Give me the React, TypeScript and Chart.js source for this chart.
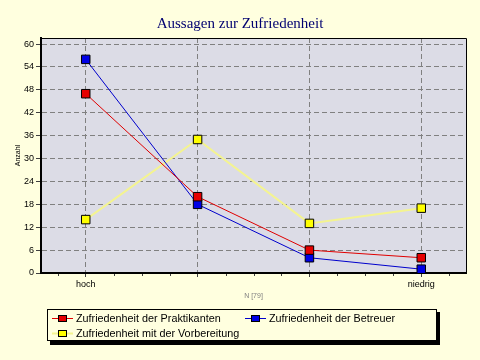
import React, { useEffect, useRef } from "react";
import { Chart, registerables } from "chart.js";

Chart.register(...registerables);

const categories = ["hoch", "", "", "niedrig"];
const seriesNames = [
  "Zufriedenheit der Praktikanten",
  "Zufriedenheit der Betreuer",
  "Zufriedenheit mit der Vorbereitung",
];
const praktikanten = [47, 20, 6, 4];
const betreuer = [56, 18, 4, 1];
const vorbereitung = [14, 35, 13, 17];
const yMax = 61.6;
const yStep = 6;
const titleText = "Aussagen zur Zufriedenheit";
const yTitle = "Anzahl";
const xTitle = "N [79]";

const PAGE_BG = "#FFFFDF";
const PLOT_BG = "#DCDCE6";
const SANS = "'Liberation Sans', Arial, sans-serif";

const toPoints = (arr: number[]) => arr.map((v, i) => ({ x: i, y: v }));

const decorPlugin = {
  id: "decor",
  beforeDraw(chart: any) {
    const { ctx, chartArea: a } = chart;
    ctx.save();
    ctx.fillStyle = PAGE_BG;
    ctx.fillRect(0, 0, chart.width, chart.height);
    ctx.fillStyle = PLOT_BG;
    ctx.fillRect(a.left, a.top, a.right - a.left, a.bottom - a.top);
    ctx.restore();
  },
  afterDraw(chart: any) {
    const { ctx, chartArea: a } = chart;
    const xs = chart.scales.x;
    ctx.save();
    // top/right border
    ctx.strokeStyle = "#000";
    ctx.lineWidth = 1;
    ctx.beginPath();
    ctx.moveTo(a.left, a.top + 0.5);
    ctx.lineTo(a.right + 0.5, a.top + 0.5);
    ctx.lineTo(a.right + 0.5, a.bottom);
    ctx.stroke();
    // minor ticks on x axis
    ctx.strokeStyle = "#404040";
    ctx.beginPath();
    for (let i = -1; i < categories.length; i++) {
      for (let k = 1; k <= 3; k++) {
        const v = i + k / 4;
        if (v < xs.min || v > xs.max) continue;
        const px = Math.round(xs.getPixelForValue(v)) + 0.5;
        ctx.moveTo(px, a.bottom + 1);
        ctx.lineTo(px, a.bottom + 3);
      }
    }
    ctx.stroke();
    // title
    ctx.fillStyle = "#000070";
    ctx.font = "15px 'Liberation Serif', 'Times New Roman', serif";
    ctx.textAlign = "center";
    ctx.textBaseline = "alphabetic";
    ctx.fillText(titleText, chart.width / 2, 28);
    // y title
    ctx.save();
    ctx.translate(18, (a.top + a.bottom) / 2);
    ctx.rotate(-Math.PI / 2);
    ctx.font = "7px " + SANS;
    ctx.fillStyle = "#000";
    ctx.textBaseline = "middle";
    ctx.fillText(yTitle, 0, 0);
    ctx.restore();
    // x title
    ctx.font = "7px " + SANS;
    ctx.fillStyle = "#808080";
    ctx.textBaseline = "middle";
    ctx.fillText(xTitle, (a.left + a.right) / 2, 296);
    // legend box
    const bx = 47, by = 309, bw = 390, bh = 32;
    ctx.fillStyle = "#000";
    ctx.fillRect(bx + 3, by + 3, bw, bh + 1);
    ctx.fillStyle = PAGE_BG;
    ctx.fillRect(bx, by, bw, bh);
    ctx.strokeStyle = "#000";
    ctx.lineWidth = 1;
    ctx.strokeRect(bx + 0.5, by + 0.5, bw - 1, bh - 1);
    const pos = [
      { x: 52, y: 318 },
      { x: 245, y: 318 },
      { x: 52, y: 333 },
    ];
    chart.data.datasets.forEach((ds: any, i: number) => {
      const p = pos[i];
      ctx.strokeStyle = ds.borderColor;
      ctx.lineWidth = ds.borderWidth;
      ctx.beginPath();
      ctx.moveTo(p.x, p.y + 0.5);
      ctx.lineTo(p.x + 21, p.y + 0.5);
      ctx.stroke();
      ctx.fillStyle = ds.pointBackgroundColor;
      ctx.fillRect(p.x + 6, p.y - 3, 9, 7);
      ctx.strokeStyle = "#000";
      ctx.lineWidth = 1;
      ctx.strokeRect(p.x + 6.5, p.y - 2.5, 8, 6);
      ctx.fillStyle = "#000";
      ctx.font = "10.8px " + SANS;
      ctx.textAlign = "left";
      ctx.textBaseline = "middle";
      ctx.fillText(ds.label, p.x + 24, p.y + 1);
    });
    ctx.restore();
  },
};

export default function App() {
  const ref = useRef<HTMLCanvasElement>(null);
  useEffect(() => {
    document.body.style.margin = "0";
    const canvas = ref.current!;
    const mk = (label: string, arr: number[], line: string, fill: string, w: number) => ({
      label,
      data: toPoints(arr),
      borderColor: line,
      borderWidth: w,
      pointStyle: "rect",
      pointRadius: 6,
      pointHoverRadius: 6,
      pointBackgroundColor: fill,
      pointBorderColor: "#000",
      pointBorderWidth: 1,
      tension: 0,
      fill: false,
    });
    const chart = new Chart(canvas, {
      type: "line",
      data: {
        datasets: [
          mk(seriesNames[0], praktikanten, "#E00000", "#E60000", 1),
          mk(seriesNames[1], betreuer, "#0000CC", "#0000E6", 1),
          mk(seriesNames[2], vorbereitung, "#F4F490", "#FFFF00", 2),
        ] as any,
      },
      options: {
        animation: false,
        responsive: false,
        layout: { padding: { top: 38, right: 14, left: 0, bottom: 0 } },
        plugins: { legend: { display: false }, tooltip: { enabled: false }, title: { display: false } },
        scales: {
          x: {
            type: "linear",
            min: -0.4,
            max: 3.4,
            afterFit(s: any) {
              s.height = 87;
            },
            ticks: {
              stepSize: 1,
              includeBounds: false,
              autoSkip: false,
              maxRotation: 0,
              padding: 2,
              color: "#000",
              font: { family: SANS, size: 9 },
              callback: (v: any) => {
                const i = Number(v);
                return Number.isInteger(i) && categories[i] !== undefined ? categories[i] : "";
              },
            },
            grid: {
              color: "#808080",
              lineWidth: 1,
              drawTicks: true,
              tickLength: 4,
              tickColor: "#404040",
              tickBorderDash: [],
            },
            border: { display: true, color: "#000", width: 2, dash: [5, 3] },
          },
          y: {
            type: "linear",
            min: 0,
            max: yMax,
            afterFit(s: any) {
              s.width = 41;
            },
            ticks: {
              stepSize: yStep,
              includeBounds: false,
              padding: 2,
              color: "#000",
              font: { family: SANS, size: 9 },
            },
            grid: {
              color: "#808080",
              lineWidth: 1,
              drawTicks: true,
              tickLength: 5,
              tickColor: "#404040",
              tickBorderDash: [],
            },
            border: { display: true, color: "#000", width: 2, dash: [5, 3] },
          },
        },
      },
      plugins: [decorPlugin],
    });
    return () => chart.destroy();
  }, []);
  return <canvas ref={ref} width={480} height={360} style={{ display: "block" }} />;
}
